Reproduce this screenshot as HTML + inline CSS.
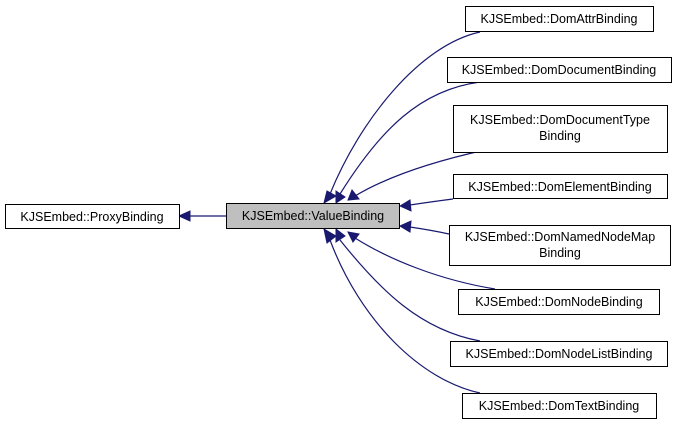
<!DOCTYPE html>
<html><head><style>
body{margin:0;background:#fff;}
svg{display:block;}
text{font-family:"Liberation Sans",sans-serif;font-size:12.5px;fill:#000;}
</style></head><body>
<svg width="679" height="424" viewBox="0 0 679 424">
<g fill="none" stroke="#191970" stroke-width="1.2">
<path d="M226,216 L189,216"/>
<path d="M330,194 C360,120 420,45 480,32"/>
<path d="M340,194 C380,130 420,90 480,82"/>
<path d="M355,196 C390,175 440,160 485,150"/>
<path d="M410,205 C430,202 445,200 453,199"/>
<path d="M410,227 C430,230 440,232 449,234"/>
<path d="M355,238 C390,260 440,280 495,289"/>
<path d="M340,240 C380,290 420,330 480,341"/>
<path d="M330,240 C360,320 420,380 480,393"/>
</g>
<g fill="#191970" stroke="#191970">
<polygon points="179,216 190,211 190,221"/>
<polygon points="324,203 327,191 336,196"/>
<polygon points="336,203 336,191 345,197"/>
<polygon points="348,200 352,190 359,199"/>
<polygon points="400,206 410,200 411,211"/>
<polygon points="400,226 411,221 410,232"/>
<polygon points="348,232 359,234 353,242"/>
<polygon points="336,229 345,236 336,242"/>
<polygon points="324,229 336,236 327,243"/>
</g>
<g stroke="#000" stroke-width="1" fill="#fff">
<rect x="5.5" y="204.5" width="174" height="24"/>
<rect x="226.5" y="203.5" width="173" height="25" fill="#bfbfbf"/>
<rect x="465.5" y="6.5" width="188" height="25"/>
<rect x="447.5" y="57.5" width="224" height="25"/>
<rect x="453.5" y="105.5" width="214" height="47"/>
<rect x="453.5" y="174.5" width="214" height="24"/>
<rect x="449.5" y="225.5" width="221" height="40"/>
<rect x="458.5" y="289.5" width="201" height="25"/>
<rect x="450.5" y="341.5" width="217" height="25"/>
<rect x="462.5" y="393.5" width="194" height="25"/>
</g>
<g text-anchor="middle">
<text x="92" y="221">KJSEmbed::ProxyBinding</text>
<text x="313" y="220">KJSEmbed::ValueBinding</text>
<text x="559" y="23">KJSEmbed::DomAttrBinding</text>
<text x="559" y="74">KJSEmbed::DomDocumentBinding</text>
<text x="560" y="124">KJSEmbed::DomDocumentType</text>
<text x="560" y="140">Binding</text>
<text x="560" y="191">KJSEmbed::DomElementBinding</text>
<text x="560" y="241">KJSEmbed::DomNamedNodeMap</text>
<text x="560" y="257">Binding</text>
<text x="559" y="306">KJSEmbed::DomNodeBinding</text>
<text x="559" y="358">KJSEmbed::DomNodeListBinding</text>
<text x="559" y="410">KJSEmbed::DomTextBinding</text>
</g>
</svg>
</body></html>
